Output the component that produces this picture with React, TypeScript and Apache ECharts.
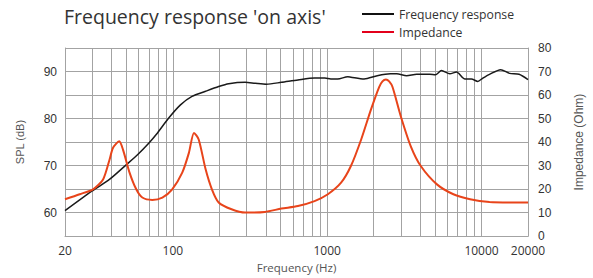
import React, { useEffect, useRef } from "react";
import * as echarts from "echarts";

const TITLE = "Frequency response 'on axis'";
const SPL_NAME = "Frequency response";
const Z_NAME = "Impedance";

const freqSpl = [20, 30, 39, 50, 59, 70, 78, 94, 112, 133, 163, 198, 230, 294, 341, 404, 505, 646, 828, 964, 1056, 1170, 1358, 1424, 1734, 2110, 2570, 2820, 3270, 3800, 4620, 5020, 5500, 6230, 6880, 7800, 8600, 9450, 10200, 11260, 13300, 15200, 17500, 20000];
const splValues = [60.4, 64.6, 67.1, 70.2, 72.3, 74.8, 76.6, 80.1, 82.9, 84.7, 85.8, 86.8, 87.4, 87.7, 87.5, 87.3, 87.7, 88.2, 88.6, 88.6, 88.4, 88.4, 88.9, 88.8, 88.4, 89.1, 89.5, 89.5, 89.1, 89.4, 89.4, 89.3, 90.2, 89.5, 89.9, 88.4, 88.4, 87.9, 88.6, 89.4, 90.4, 89.6, 89.4, 88.3];

const freqZ = [20, 24.9, 30.4, 35.3, 38.9, 40.9, 44.9, 47.5, 52.4, 57.9, 63.4, 73.5, 85.5, 99, 115, 127, 137, 147, 163, 179, 198, 240, 294, 394, 505, 646, 828, 1010, 1230, 1424, 1660, 1920, 2170, 2280, 2400, 2520, 2650, 3000, 3480, 4040, 5140, 6570, 8430, 11260, 15200, 20000];
const zValues = [15.7, 17.8, 19.9, 24.1, 32.6, 37.5, 40.3, 36.8, 27.0, 19.9, 16.4, 15.4, 16.4, 19.9, 27.0, 35.4, 43.9, 41.1, 28.4, 19.9, 14.3, 11.4, 10.0, 10.3, 11.7, 12.8, 14.9, 17.8, 22.7, 29.8, 41.1, 53.8, 63.4, 65.8, 66.6, 65.8, 63.4, 50.9, 38.2, 29.8, 22.0, 17.8, 15.7, 14.5, 14.3, 14.3];

const vGridFreqs = [20, 30, 40, 50, 60, 70, 80, 90, 100, 200, 300, 400, 500, 600, 700, 800, 900, 1000, 2000, 3000, 4000, 5000, 6000, 7000, 8000, 9000, 10000, 20000];

const GRID = "#a3a3a3";

export default function App() {
  const ref = useRef<HTMLDivElement>(null);
  useEffect(() => {
    document.body.style.margin = "0";
    if (!ref.current) return;
    const chart = echarts.init(ref.current, null, { renderer: "svg" });
    chart.setOption({
      animation: false,
      backgroundColor: "#ffffff",
      title: {
        text: TITLE,
        left: 64,
        top: 6,
        padding: 0,
        textStyle: { fontFamily: "Open Sans", fontSize: 19.5, fontWeight: "normal", color: "#333333" },
      },
      legend: {
        orient: "vertical",
        left: 362,
        top: 7,
        padding: 0,
        itemWidth: 32,
        itemHeight: 2,
        itemGap: 4,
        icon: "rect",
        textStyle: { fontFamily: "Open Sans", fontSize: 12.2, color: "#333333", lineHeight: 14 },
        data: [
          { name: SPL_NAME, itemStyle: { color: "#111111" } },
          { name: Z_NAME, itemStyle: { color: "#e3001b" } },
        ],
      },
      grid: { left: 65, right: 61, top: 48, bottom: 41, containLabel: false },
      xAxis: {
        type: "log",
        logBase: 10,
        min: 20,
        max: 20000,
        name: "Frequency (Hz)",
        nameLocation: "middle",
        nameGap: 24,
        nameTextStyle: { fontFamily: "Open Sans", fontSize: 11.5, color: "#555555" },
        axisLine: { show: true, lineStyle: { color: GRID, width: 1 } },
        axisTick: { show: false },
        splitLine: { show: false },
        axisLabel: {
          margin: 8,
          fontFamily: "Open Sans",
          fontSize: 12,
          color: "#333333",
          formatter: (v: number) => String(Math.round(v)),
        },
      },
      yAxis: [
        {
          type: "value",
          min: 55,
          max: 95,
          interval: 5,
          name: "SPL (dB)",
          nameLocation: "middle",
          nameGap: 40,
          nameTextStyle: { fontFamily: "Liberation Sans", fontSize: 11, color: "#555555" },
          axisLine: { show: true, lineStyle: { color: GRID, width: 1 } },
          axisTick: { show: false },
          splitLine: { show: true, lineStyle: { color: GRID, width: 1 } },
          axisLabel: {
            margin: 8,
            fontFamily: "Liberation Sans",
            fontSize: 12,
            color: "#333333",
            formatter: (v: number) => (v % 10 === 0 ? String(v) : ""),
          },
        },
        {
          type: "value",
          min: 0,
          max: 80,
          interval: 10,
          name: "Impedance (Ohm)",
          nameLocation: "middle",
          nameGap: 45,
          nameTextStyle: { fontFamily: "Liberation Sans", fontSize: 12, color: "#555555" },
          axisLine: { show: true, lineStyle: { color: GRID, width: 1 } },
          axisTick: { show: false },
          splitLine: { show: false },
          axisLabel: {
            margin: 10,
            fontFamily: "Liberation Sans",
            fontSize: 12,
            color: "#333333",
          },
        },
      ],
      series: [
        {
          name: SPL_NAME,
          type: "line",
          yAxisIndex: 0,
          data: freqSpl.map((f, i) => [f, splValues[i]]),
          symbol: "none",
          smooth: 0.25,
          lineStyle: { color: "#1a1a1a", width: 1.5 },
          itemStyle: { color: "#1a1a1a" },
          z: 3,
          markLine: {
            silent: true,
            symbol: "none",
            label: { show: false },
            lineStyle: { color: GRID, width: 1, type: "solid" },
            data: vGridFreqs.map((f) => ({ xAxis: f })),
            z: 1,
          },
        },
        {
          name: Z_NAME,
          type: "line",
          yAxisIndex: 1,
          data: freqZ.map((f, i) => [f, zValues[i]]),
          symbol: "none",
          smooth: 0.25,
          lineStyle: { color: "#e8441a", width: 2 },
          itemStyle: { color: "#e8441a" },
          z: 4,
        },
      ],
    });
    return () => chart.dispose();
  }, []);
  return <div ref={ref} style={{ width: 593, height: 278 }} />;
}
